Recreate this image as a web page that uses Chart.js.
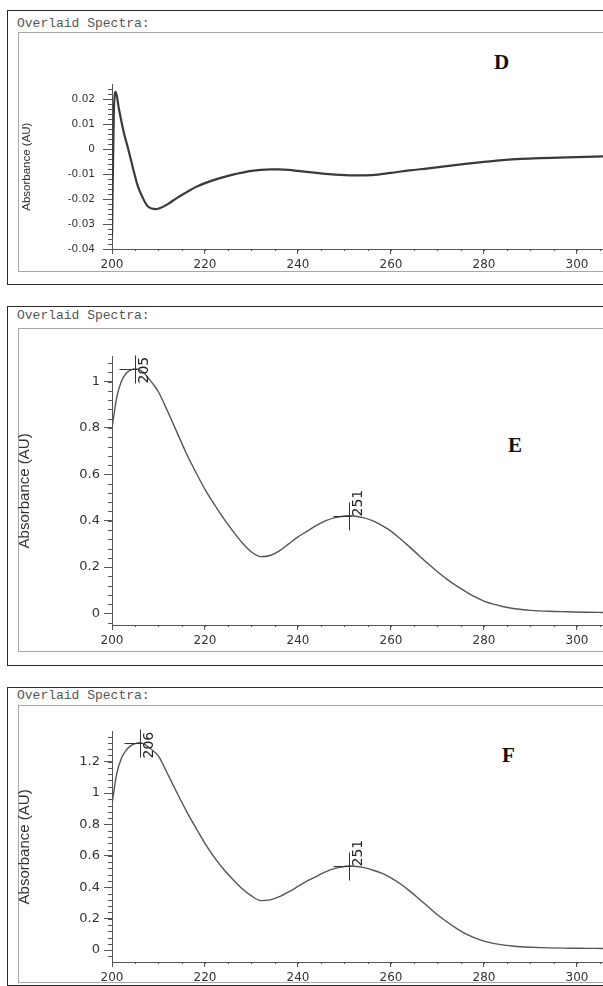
<!doctype html>
<html lang="en">
<head>
<meta charset="utf-8">
<title>Overlaid Spectra D, E, F</title>
<script src="https://cdn.jsdelivr.net/npm/chart.js@4.4.4/dist/chart.umd.min.js"></script>
<style>
  body { margin: 0; width: 603px; height: 986px; overflow: hidden; background: #fff; position: relative; }
  .box { position: absolute; left: 7px; width: 640px; border: 1.5px solid #2b2b2b; box-sizing: border-box; }
  .frame { position: absolute; left: 18px; width: 640px; border: 1px solid #a8a8a8; border-right: none; box-sizing: border-box; }
  .ttl { position: absolute; left: 17px; font: 13px/15px "Liberation Mono", monospace; color: #555; white-space: pre; }
  .tag { position: absolute; font: bold 21px/21px "Liberation Serif", serif; color: #111; }
  canvas { position: absolute; left: 0; }
</style>
</head>
<body>
<div class="box" style="top:10px;height:275px"></div>
<div class="frame" style="top:32px;height:240px"></div>
<div class="ttl" style="top:16px">Overlaid Spectra:</div>
<div class="tag" style="top:52px;left:494px">D</div>

<div class="box" style="top:306px;height:360px"></div>
<div class="frame" style="top:328px;height:324px"></div>
<div class="ttl" style="top:308px">Overlaid Spectra:</div>
<div class="tag" style="top:435px;left:508px">E</div>

<div class="box" style="top:687px;height:299px"></div>
<div class="frame" style="top:705px;height:278px"></div>
<div class="ttl" style="top:688px">Overlaid Spectra:</div>
<div class="tag" style="top:745px;left:502px">F</div>

<canvas id="chartD" width="603" height="203" style="top:70px"></canvas>
<canvas id="chartE" width="603" height="304" style="top:345px"></canvas>
<canvas id="chartF" width="603" height="266" style="top:720px"></canvas>
<script>
// wavelength axis, shared by all three panels
const X_RANGE = [200, 305.6];
const X_TICKS = [200, 220, 240, 260, 280, 300];
const X_LABELS = ["200", "220", "240", "260", "280", "300"];

// panel D: absorbance (nm, AU)
const D_NM = [200, 200.4, 200.8, 201.5, 202.5, 203.5, 204.5, 205.5, 206.5, 207.5, 208.5, 209.5, 210.5,
  212, 214, 216, 218, 220, 222, 224, 226, 228, 230, 232, 234, 236, 238, 240, 244, 248, 252, 256,
  260, 264, 268, 272, 276, 280, 284, 288, 292, 296, 300, 306];
const D_AU = [-0.035, 0.015, 0.023, 0.016, 0.007, 0.0, -0.0075, -0.0145, -0.019, -0.0225, -0.0238, -0.024, -0.0235,
  -0.022, -0.0195, -0.0173, -0.0152, -0.0136, -0.0123, -0.0112, -0.0102, -0.0094, -0.0087, -0.0083, -0.0081, -0.0081, -0.0083, -0.0087, -0.0095, -0.0102, -0.0105, -0.0104,
  -0.0095, -0.0085, -0.0077, -0.0068, -0.0059, -0.0051, -0.0044, -0.0039, -0.0036, -0.0034, -0.0032, -0.0029];
const D_Y_RANGE = [-0.04, 0.026];
const D_Y_TICKS = [-0.04, -0.03, -0.02, -0.01, 0, 0.01, 0.02];
const D_Y_LABELS = ["-0.04", "-0.03", "-0.02", "-0.01", "0", "0.01", "0.02"];

// panel E
const E_NM = [200, 201, 202, 203, 204, 205, 206, 207, 208, 209, 210, 212, 214, 216, 218, 220, 222, 224, 226, 228,
  230, 232, 234, 236, 238, 240, 242, 244, 246, 248, 250, 251, 252, 254, 256, 258, 260, 262, 264, 266, 268,
  270, 272, 274, 276, 278, 280, 282, 284, 286, 288, 290, 294, 298, 302, 306];
const E_AU = [0.80, 0.93, 1.00, 1.035, 1.05, 1.055, 1.05, 1.035, 1.01, 0.985, 0.955, 0.87, 0.78, 0.69, 0.61, 0.535, 0.47, 0.41, 0.355, 0.305,
  0.265, 0.245, 0.25, 0.27, 0.30, 0.33, 0.355, 0.38, 0.40, 0.413, 0.42, 0.421, 0.42, 0.413, 0.40, 0.38, 0.355, 0.322, 0.287, 0.25, 0.214,
  0.18, 0.148, 0.12, 0.095, 0.072, 0.053, 0.04, 0.03, 0.022, 0.017, 0.013, 0.009, 0.007, 0.005, 0.004];
const E_Y_RANGE = [-0.05, 1.107];
const E_Y_TICKS = [0, 0.2, 0.4, 0.6, 0.8, 1];
const E_Y_LABELS = ["0", "0.2", "0.4", "0.6", "0.8", "1"];
const E_PEAK_NM = [205, 251];
const E_PEAK_AU = [1.055, 0.421];

// panel F
const F_NM = E_NM;
const F_AU = [0.93, 1.12, 1.22, 1.27, 1.30, 1.315, 1.32, 1.31, 1.29, 1.265, 1.235, 1.12, 1.00, 0.885, 0.78, 0.68, 0.59, 0.515, 0.45, 0.39,
  0.345, 0.315, 0.32, 0.34, 0.37, 0.405, 0.44, 0.47, 0.50, 0.52, 0.532, 0.535, 0.534, 0.527, 0.51, 0.49, 0.46, 0.422, 0.377, 0.327, 0.276,
  0.225, 0.18, 0.14, 0.105, 0.078, 0.057, 0.043, 0.033, 0.026, 0.021, 0.018, 0.014, 0.012, 0.011, 0.01];
const F_Y_RANGE = [-0.076, 1.39];
const F_Y_TICKS = [0, 0.2, 0.4, 0.6, 0.8, 1, 1.2];
const F_Y_LABELS = ["0", "0.2", "0.4", "0.6", "0.8", "1", "1.2"];
const F_PEAK_NM = [206, 251];
const F_PEAK_AU = [1.32, 0.535];

const AXIS = "#555";

// small unlabelled ticks between the major ones
const minorTicks = {
  id: "minorTicks",
  afterDraw(chart, args, o) {
    const { ctx } = chart;
    const x = chart.scales.x, y = chart.scales.y;
    ctx.save();
    ctx.strokeStyle = AXIS;
    ctx.lineWidth = 1;
    ctx.beginPath();
    for (let k = 0; X_RANGE[0] + k * o.xStep <= x.max; k++) {
      const px = Math.round(x.getPixelForValue(X_RANGE[0] + k * o.xStep)) + 0.5;
      ctx.moveTo(px, x.top);
      ctx.lineTo(px, x.top + o.xLen);
    }
    for (let k = Math.ceil(y.min / o.yStep); k * o.yStep <= y.max; k++) {
      const py = Math.round(y.getPixelForValue(k * o.yStep)) + 0.5;
      ctx.moveTo(y.right - o.yLen, py);
      ctx.lineTo(y.right, py);
    }
    ctx.stroke();
    ctx.restore();
  },
};

// peak apex cross + rotated wavelength label
const peakMarks = {
  id: "peakMarks",
  afterDatasetsDraw(chart, args, o) {
    if (!o.nm) return;
    const { ctx, chartArea } = chart;
    const x = chart.scales.x, y = chart.scales.y;
    ctx.save();
    ctx.strokeStyle = "#333";
    ctx.fillStyle = "#222";
    ctx.lineWidth = 1;
    ctx.font = '14px "DejaVu Sans"';
    ctx.textBaseline = "middle";
    ctx.textAlign = "left";
    o.nm.forEach((nm, i) => {
      const px = Math.round(x.getPixelForValue(nm)) + 0.5;
      const py = Math.round(y.getPixelForValue(o.au[i])) + 0.5;
      ctx.beginPath();
      ctx.moveTo(px, py - 14);
      ctx.lineTo(px, py + 14);
      ctx.moveTo(px - 16, py);
      ctx.lineTo(px + 2, py);
      ctx.stroke();
      const label = String(nm);
      const w = ctx.measureText(label).width;
      const base = Math.max(py, chartArea.top + w);
      ctx.save();
      ctx.translate(px + 9, base);
      ctx.rotate(-Math.PI / 2);
      ctx.fillText(label, 0, 0);
      ctx.restore();
    });
    ctx.restore();
  },
};

function spectrum(id, nm, au, yTicks, yLabels, yRange, s) {
  return new Chart(document.getElementById(id), {
    type: "line",
    data: {
      datasets: [{
        data: nm.map((v, i) => ({ x: v, y: au[i] })),
        borderColor: s.color, borderWidth: s.width,
        pointRadius: 0, cubicInterpolationMode: "monotone", fill: false,
      }],
    },
    options: {
      responsive: false, animation: false, events: [],
      layout: { padding: { top: 10, left: 0, right: 0, bottom: 0 } },
      scales: {
        x: {
          type: "linear", min: X_RANGE[0], max: X_RANGE[1],
          afterBuildTicks: (sc) => { sc.ticks = X_TICKS.map((v) => ({ value: v })); },
          afterFit: (sc) => { sc.height = 24; },
          ticks: {
            callback: (v, i) => X_LABELS[i], autoSkip: false, maxRotation: 0,
            padding: 4, color: "#333", font: { family: "DejaVu Sans", size: 12 },
          },
          grid: { drawOnChartArea: false, tickLength: 5, color: AXIS },
          border: { color: AXIS },
        },
        y: {
          type: "linear", min: yRange[0], max: yRange[1],
          afterBuildTicks: (sc) => { sc.ticks = yTicks.map((v) => ({ value: v })); },
          afterFit: (sc) => { sc.width = 112; },
          ticks: {
            callback: (v, i) => yLabels[i], autoSkip: false,
            padding: s.tickPad, color: "#333", font: { family: "DejaVu Sans", size: s.tickSize },
          },
          grid: { drawOnChartArea: false, tickLength: s.tickLen, color: AXIS },
          border: { color: AXIS },
          title: {
            display: true, text: "Absorbance (AU)", color: "#333",
            font: { family: "Liberation Sans", size: s.titleSize },
            padding: { top: s.titlePad, bottom: 0 },
          },
        },
      },
      plugins: {
        legend: { display: false },
        tooltip: { enabled: false },
        minorTicks: { xStep: 5, xLen: 2, yStep: s.minor, yLen: 4 },
        peakMarks: { nm: s.peakNm, au: s.peakAu },
      },
    },
    plugins: [minorTicks, peakMarks],
  });
}

spectrum("chartD", D_NM, D_AU, D_Y_TICKS, D_Y_LABELS, D_Y_RANGE,
  { color: "#3a3a3a", width: 2.2, tickSize: 10.5, tickPad: 8, tickLen: 9, titleSize: 11.5, titlePad: 20, minor: 0.002 });
spectrum("chartE", E_NM, E_AU, E_Y_TICKS, E_Y_LABELS, E_Y_RANGE,
  { color: "#555", width: 1.4, tickSize: 13, tickPad: 4, tickLen: 8, titleSize: 15, titlePad: 16, minor: 0.04, peakNm: E_PEAK_NM, peakAu: E_PEAK_AU });
spectrum("chartF", F_NM, F_AU, F_Y_TICKS, F_Y_LABELS, F_Y_RANGE,
  { color: "#555", width: 1.4, tickSize: 13, tickPad: 4, tickLen: 8, titleSize: 15, titlePad: 16, minor: 0.04, peakNm: F_PEAK_NM, peakAu: F_PEAK_AU });
</script>
</body>
</html>
